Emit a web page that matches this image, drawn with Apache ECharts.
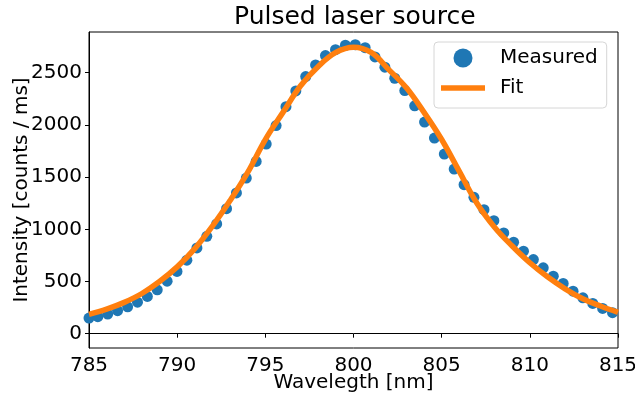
<!DOCTYPE html>
<html>
<head>
<meta charset="utf-8">
<script src="https://cdn.jsdelivr.net/npm/echarts@6/dist/echarts.min.js"></script>
<style>
  html, body { margin: 0; padding: 0; background: #fff; }
  #main { width: 635px; height: 394px; }
</style>
</head>
<body>
<div id="main"></div>
<script>
// measured points (nm, counts/ms)
var wavelengths = [
  785.00, 785.50, 786.06, 786.62, 787.19, 787.75, 788.31, 788.87, 789.43, 789.99,
  790.55, 791.12, 791.68, 792.24, 792.80, 793.36, 793.92, 794.48, 795.05, 795.61,
  796.17, 796.73, 797.29, 797.85, 798.41, 798.98, 799.54, 800.10, 800.66, 801.22,
  801.78, 802.34, 802.91, 803.47, 804.03, 804.59, 805.15, 805.71, 806.27, 806.83,
  807.40, 807.96, 808.52, 809.08, 809.64, 810.20, 810.76, 811.33, 811.89, 812.45,
  813.01, 813.57, 814.13, 814.69
];
var measured = [
  150, 163, 188, 220, 258, 302, 357, 420, 503, 596,
  704, 822, 933, 1052, 1198, 1348, 1491, 1650, 1816, 1994,
  2175, 2326, 2463, 2575, 2664, 2721, 2763, 2769, 2740, 2651,
  2553, 2447, 2329, 2183, 2027, 1874, 1721, 1577, 1427, 1306,
  1188, 1083, 965, 876, 790, 710, 631, 551, 481, 407,
  344, 290, 242, 201
];

// fitted curve, read at 1 nm steps
var fitX = [
  785, 786, 787, 788, 789, 790, 791, 792, 793, 794, 795, 796, 797, 798, 799, 800,
  801, 802, 803, 804, 805, 806, 807, 808, 809, 810, 811, 812, 813, 814, 815
];
var fitY = [
  185, 235, 300, 385, 500, 640, 815, 1030, 1275, 1545, 1860, 2120, 2375, 2560, 2695, 2745,
  2695, 2530, 2355, 2120, 1860, 1555, 1250, 1020, 840, 680, 545, 430, 335, 265, 205
];

var yTicks = [0, 500, 1000, 1500, 2000, 2500];

var font = "DejaVu Sans";
var blue = "#1f77b4";
var orange = "#ff7f0e";

var myChart = echarts.init(document.getElementById("main"));

var option = {
  animation: false,
  backgroundColor: "#fff",
  title: {
    text: "Pulsed laser source",
    left: 234,
    top: 5,
    padding: 0,
    textStyle: { fontFamily: font, fontSize: 25, fontWeight: "normal", color: "#000" }
  },
  grid: {
    left: 89,
    right: 17,
    top: 32,
    bottom: 46,
    containLabel: false,
    outerBoundsMode: "none",
    show: true,
    borderColor: "#000",
    borderWidth: 1,
    backgroundColor: "transparent"
  },
  legend: {
    orient: "vertical",
    left: 434,
    top: 42,
    padding: [6, 9, 10, 7],
    itemGap: 10,
    itemWidth: 44,
    itemHeight: 19,
    borderColor: "#d6d6d6",
    borderWidth: 1,
    borderRadius: 4,
    backgroundColor: "#fff",
    textStyle: { fontFamily: font, fontSize: 20, color: "#000", lineHeight: 20, padding: [0, 0, 0, 10] },
    data: [
      { name: "Measured", icon: "circle" },
      { name: "Fit", icon: "path://M0,0 L44,0 L44,5.5 L0,5.5 Z", itemStyle: { color: orange } }
    ]
  },
  xAxis: {
    type: "value",
    min: 785,
    max: 815,
    interval: 5,
    name: "Wavelegth [nm]",
    nameLocation: "middle",
    nameGap: 25,
    nameMoveOverlap: false,
    nameTextStyle: { fontFamily: font, fontSize: 20, color: "#000" },
    axisLine: { lineStyle: { color: "#000", width: 1 } },
    axisTick: { length: 4, lineStyle: { color: "#000" } },
    axisLabel: { fontFamily: font, fontSize: 20, color: "#000", margin: 8 },
    splitLine: { show: false }
  },
  yAxis: {
    type: "value",
    min: -137,
    max: 2890,
    name: "Intensity [counts / ms]",
    nameLocation: "middle",
    nameGap: 57,
    nameMoveOverlap: false,
    nameTextStyle: { fontFamily: font, fontSize: 20, color: "#000" },
    axisLine: { show: true, lineStyle: { color: "#000", width: 1 } },
    axisTick: { show: true, length: 4, customValues: yTicks, lineStyle: { color: "#000" } },
    axisLabel: {
      fontFamily: font, fontSize: 20, color: "#000", margin: 7, customValues: yTicks,
      formatter: function (v) { return String(v); }
    },
    splitLine: { show: false }
  },
  series: [
    {
      name: "Measured",
      type: "scatter",
      symbol: "circle",
      symbolSize: 11,
      itemStyle: { color: blue, opacity: 1 },
      data: wavelengths.map(function (x, i) { return [x, measured[i]]; }),
      z: 2
    },
    {
      name: "Fit",
      type: "line",
      symbol: "none",
      smooth: 0.4,
      lineStyle: { color: orange, width: 5.5 },
      itemStyle: { color: orange },
      data: fitX.map(function (x, i) { return [x, fitY[i]]; }),
      z: 3
    }
  ]
};

myChart.setOption(option);
</script>
</body>
</html>
